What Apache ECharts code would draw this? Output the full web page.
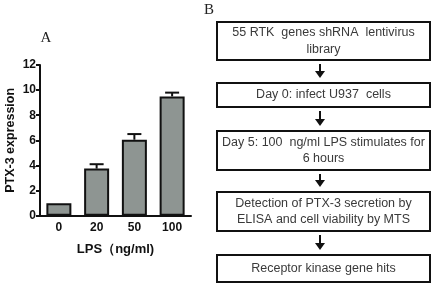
<!DOCTYPE html>
<html>
<head>
<meta charset="utf-8">
<script src="https://cdn.jsdelivr.net/npm/echarts@6/dist/echarts.min.js"></script>
<style>
html,body{margin:0;padding:0;background:#fff;}
#chart{width:435px;height:287px;}
</style>
</head>
<body>
<div id="chart"></div>
<script>
// panel A data
var doses = ['0', '20', '50', '100'];
var ptx3 = [1.0, 3.75, 6.05, 9.5];
var ptx3Err = [0.0, 0.35, 0.45, 0.3];
var yTicks = [0, 2, 4, 6, 8, 10, 12];

// panel B flowchart steps
var steps = [
	['55 RTK  genes shRNA  lentivirus', 'library'],
	['Day 0: infect U937  cells'],
	['Day 5: 100  ng/ml LPS stimulates for', '6 hours'],
	['Detection of PTX-3 secretion by', 'ELISA and cell viability by MTS'],
	['Receptor kinase gene hits']
];
// box top / bottom in px
var boxTop = [22, 83, 131, 192, 255];
var boxBot = [60, 107, 170, 231, 282];

var chart = echarts.init(document.getElementById('chart'));

// flowchart built with graphic elements
var gfx = [];
var bx = 217, bw = 213, cx = bx + bw / 2;
for (var i = 0; i < steps.length; i++) {
	var t = boxTop[i], b = boxBot[i];
	gfx.push({
		type: 'rect',
		shape: {x: bx, y: t, width: bw, height: b - t},
		style: {fill: '#fff', stroke: '#111', lineWidth: 2}
	});
	var lines = steps[i];
	var mid = (t + b) / 2;
	for (var j = 0; j < lines.length; j++) {
		var ly = mid + (j - (lines.length - 1) / 2) * 16.5;
		gfx.push({
			type: 'text',
			style: {
				text: lines[j], x: cx, y: ly,
				align: 'center', verticalAlign: 'middle',
				font: '12.5px "Liberation Sans", Arial, sans-serif',
				fill: '#3a3a3a'
			}
		});
	}
	// arrow to the next box
	if (i < steps.length - 1) {
		var ay0 = b + 4, ay1 = boxTop[i + 1] - 5, ax = 320;
		gfx.push({
			type: 'line',
			shape: {x1: ax, y1: ay0, x2: ax, y2: ay1 - 5},
			style: {stroke: '#111', lineWidth: 2}
		});
		gfx.push({
			type: 'polygon',
			shape: {points: [[ax - 5, ay1 - 7], [ax + 5, ay1 - 7], [ax, ay1]]},
			style: {fill: '#111'}
		});
	}
}
// panel letters
gfx.push({
	type: 'text',
	style: {text: 'A', x: 46, y: 38, align: 'center', verticalAlign: 'middle',
		font: '15px "Liberation Serif", "DejaVu Serif", serif', fill: '#222'}
});
gfx.push({
	type: 'text',
	style: {text: 'B', x: 209, y: 10, align: 'center', verticalAlign: 'middle',
		font: '15px "Liberation Serif", "DejaVu Serif", serif', fill: '#222'}
});

var errData = [];
for (var k = 0; k < doses.length; k++) {
	errData.push([k, ptx3[k], ptx3[k] + ptx3Err[k]]);
}

var axisFont = {fontFamily: '"Liberation Sans", Arial, sans-serif', fontWeight: 'bold', color: '#111'};

var option = {
	animation: false,
	grid: {left: 40, top: 65, width: 151, height: 150.7, containLabel: false},
	xAxis: {
		type: 'category',
		data: doses,
		name: 'LPS（ng/ml)',
		nameLocation: 'middle',
		nameGap: 27,
		nameTextStyle: Object.assign({fontSize: 13}, axisFont),
		axisLine: {lineStyle: {color: '#111', width: 2}},
		axisTick: {show: false},
		axisLabel: Object.assign({fontSize: 12, margin: 6}, axisFont)
	},
	yAxis: {
		type: 'value',
		min: yTicks[0],
		max: yTicks[yTicks.length - 1],
		interval: yTicks[1] - yTicks[0],
		name: 'PTX-3 expression',
		nameLocation: 'middle',
		nameGap: 23,
		nameTextStyle: Object.assign({fontSize: 12.5}, axisFont),
		axisLine: {show: true, lineStyle: {color: '#111', width: 2}},
		axisTick: {show: true, length: 4, lineStyle: {color: '#111', width: 2}},
		axisLabel: Object.assign({fontSize: 12, margin: 4}, axisFont),
		splitLine: {show: false}
	},
	series: [{
		type: 'bar',
		data: ptx3,
		barWidth: 25,
		itemStyle: {color: '#8e9592', borderColor: '#111', borderWidth: 2},
		z: 3
	}, {
		type: 'custom',
		data: errData,
		z: 2,
		renderItem: function (params, api) {
			var x = api.value(0);
			var lo = api.coord([x, api.value(1)]);
			var hi = api.coord([x, api.value(2)]);
			if (api.value(2) - api.value(1) <= 0) return null;
			return {
				type: 'group',
				children: [{
					type: 'line',
					shape: {x1: lo[0], y1: lo[1], x2: hi[0], y2: hi[1]},
					style: {stroke: '#111', lineWidth: 2}
				}, {
					type: 'line',
					shape: {x1: hi[0] - 7, y1: hi[1], x2: hi[0] + 7, y2: hi[1]},
					style: {stroke: '#111', lineWidth: 2}
				}]
			};
		}
	}],
	graphic: gfx
};
chart.setOption(option);
</script>
</body>
</html>
